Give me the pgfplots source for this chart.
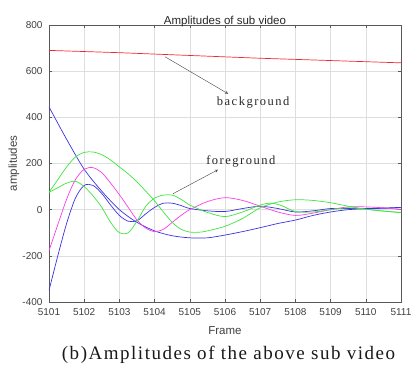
\documentclass[border=0pt]{standalone}
\usepackage{fontspec}
\setmainfont{Liberation Sans}
\newfontfamily\capfont[LetterSpace=8]{Liberation Serif}
\newfontfamily\annfont[LetterSpace=12]{Liberation Serif}
\usepackage{pgfplots}
\pgfplotsset{compat=1.18}
\definecolor{cred}{RGB}{240,40,50}
\definecolor{cblue}{RGB}{60,50,225}
\definecolor{cmag}{RGB}{250,60,235}
\definecolor{cgreen}{RGB}{60,230,60}
\begin{document}
\begin{tikzpicture}
\path[use as bounding box] (-49pt,-73pt) rectangle (362pt,302pt);
\begin{axis}[
  at={(0,0)}, anchor=south west,
  scale only axis, width=352pt, height=277pt,
  xmin=5101, xmax=5111, ymin=-400, ymax=800,
  xtick={5101,...,5111}, ytick={-400,-200,0,200,400,600,800},
  xticklabel style={/pgf/number format/1000 sep={}, yshift=-3pt},
  yticklabel style={xshift=-3pt},
  /pgf/number format/assume math mode=true,
  tick label style={font=\fontsize{10}{12}\selectfont, text=black!75},
  grid=major, major grid style={black!13, line width=0.4pt},
  axis line style={black!65, line width=0.5pt},
  tick style={black!65, line width=0.5pt},
  tick align=inside, major tick length=3pt,
  xtick pos=both, ytick pos=both,
  title={Amplitudes of sub video},
  title style={at={(axis description cs:0.5,1)}, anchor=center, yshift=-3pt, font=\fontsize{11.5}{13}\selectfont, text=black!85},
  xlabel={Frame},
  xlabel style={at={(axis description cs:0.5,0)}, anchor=center, yshift=-29pt, font=\fontsize{11.5}{13}\selectfont, text=black!75},
  ylabel={amplitudes},
  ylabel style={at={(axis description cs:0,0.5)}, anchor=center, yshift=35pt, font=\fontsize{11.5}{13}\selectfont, text=black!75},
  every axis plot/.append style={line width=0.7pt, smooth, tension=0.5, no marks},
]
\addplot[cred] coordinates {(5101,690) (5102,685) (5103,680) (5104,674) (5105,668) (5106,662) (5107,656) (5108,651) (5109,646) (5110,641) (5111,636)};
\addplot[cblue] coordinates {(5101,445) (5101.5,305) (5102,175) (5102.5,80) (5103,0) (5103.5,-55) (5104,-92) (5104.5,-113) (5105,-122) (5105.5,-122) (5106,-110) (5106.5,-95) (5107,-78) (5107.5,-60) (5108,-45) (5108.5,-25) (5109,-10) (5109.5,0) (5110,4) (5110.5,6) (5111,8)};
\addplot[cblue] coordinates {(5101,-350) (5101.25,-200) (5101.5,-60) (5101.75,50) (5102,105) (5102.25,105) (5102.5,70) (5102.75,20) (5103,-25) (5103.25,-50) (5103.5,-48) (5103.75,-18) (5104,10) (5104.25,28) (5104.5,28) (5104.75,18) (5105,5) (5105.5,-5) (5106,-8) (5106.5,5) (5107,15) (5107.5,5) (5108,-10) (5108.5,-5) (5109,5) (5109.5,5) (5110,5) (5110.5,7) (5111,10)};
\addplot[cmag] coordinates {(5101,-178) (5101.25,-65) (5101.5,45) (5101.75,130) (5102,175) (5102.25,182) (5102.5,160) (5102.75,115) (5103,65) (5103.25,10) (5103.5,-45) (5103.75,-80) (5104,-95) (5104.25,-85) (5104.5,-55) (5104.75,-25) (5105,0) (5105.5,35) (5106,52) (5106.5,40) (5107,15) (5107.5,-10) (5108,-25) (5108.5,-15) (5109,0) (5109.5,12) (5110,12) (5110.5,8) (5111,0)};
\addplot[cgreen] coordinates {(5101,75) (5101.25,130) (5101.5,185) (5101.75,228) (5102,248) (5102.25,250) (5102.5,238) (5102.75,215) (5103,185) (5103.25,155) (5103.5,120) (5103.75,80) (5104,38) (5104.25,-10) (5104.5,-55) (5104.75,-85) (5105,-97) (5105.25,-98) (5105.5,-92) (5106,-72) (5106.5,-38) (5107,8) (5107.5,33) (5108,43) (5108.5,40) (5109,30) (5109.5,15) (5110,2) (5110.5,-6) (5111,-13)};
\addplot[cgreen] coordinates {(5101,75) (5101.25,95) (5101.5,115) (5101.75,123) (5102,100) (5102.25,60) (5102.5,10) (5102.75,-55) (5103,-100) (5103.25,-100) (5103.5,-50) (5103.75,15) (5104,50) (5104.25,63) (5104.5,63) (5104.75,45) (5105,20) (5105.5,-12) (5106,-30) (5106.5,-10) (5107,20) (5107.3,28) (5107.6,18) (5108,-8) (5108.5,-10) (5109,0) (5109.5,8) (5110,2) (5110.5,-6) (5111,-12)};
\draw[-stealth, black!75, line width=0.4pt] (axis cs:5104.3,662) -- (axis cs:5106.09,502);
\draw[-stealth, black!75, line width=0.4pt] (axis cs:5104.52,69) -- (axis cs:5105.8,173);
\node[font=\annfont\fontsize{12.5}{14}\selectfont, text=black!85] at (axis cs:5106.8,463) {background};
\node[font=\annfont\fontsize{12.5}{14}\selectfont, text=black!85] at (axis cs:5106.45,208) {foreground};
\end{axis}
\node[font=\capfont\fontsize{19}{21}\selectfont, text=black!90] at (179.5pt,-53pt) {(b)Amplitudes of the above sub video};
\end{tikzpicture}
\end{document}
